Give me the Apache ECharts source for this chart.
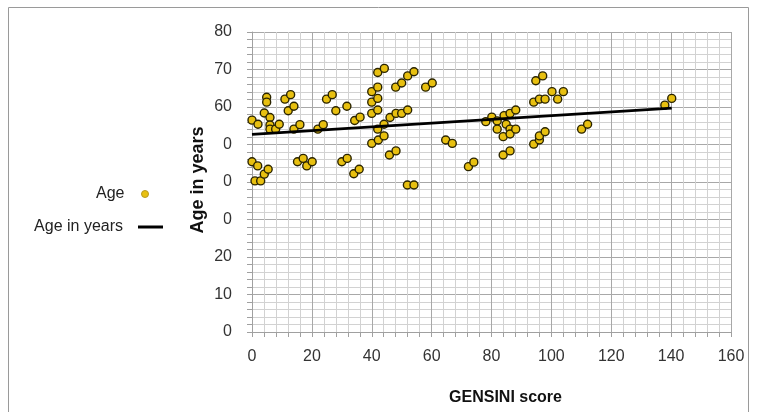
<!DOCTYPE html>
<html>
<head>
<meta charset="utf-8">
<script src="https://cdn.jsdelivr.net/npm/echarts@6/dist/echarts.min.js"></script>
<style>html,body{margin:0;padding:0;background:#fff;}#c{width:758px;height:412px;}</style>
</head>
<body>
<div id="c"></div>
<script>
// GENSINI score (x) and Age (y) for each plotted point
const gensini = [0, 2, 4.1, 4.9, 4.9, 6, 6, 6, 7.9, 9.1, 11, 12.9, 12.1, 14, 14, 16, 22, 23.8, 24.9, 26.8, 28, 31.7,
  0, 1.9, 1, 2.9, 4.1, 5.4, 15.2, 17.1, 18.3, 20.1, 30, 31.8, 34, 35.8, 34.3, 36.1,
  42, 44.2, 52, 54.1, 48, 50, 58, 60.2, 40, 42, 40, 42, 40, 42, 46.1, 48.1, 50, 52, 42, 44.1, 40, 42.2, 44.1, 45.9, 48.1, 64.7, 66.9, 51.9, 54.1,
  78.1, 80.1, 81.9, 84.2, 86.2, 88.1, 81.9, 83.9, 84.9, 86.2, 86.2, 88.1, 83.9, 86.2, 72.3, 74.1,
  94.8, 97.1, 94.1, 96, 97.9, 100.2, 102.1, 104, 94.1, 96, 96, 97.9,
  110.1, 112.1, 137.9, 140.2];
const ages = [56.5, 55.4, 58.4, 62.6, 61.3, 57.2, 55.2, 54.1, 54.1, 55.4, 62.1, 63.3, 59.0, 60.2, 54.1, 55.3, 54.1, 55.3, 62.1, 63.3, 59.0, 60.2,
  45.4, 44.3, 40.3, 40.3, 42.1, 43.4, 45.4, 46.3, 44.3, 45.4, 45.4, 46.3, 42.2, 43.4, 56.4, 57.3,
  69.2, 70.3, 68.3, 69.4, 65.3, 66.4, 65.3, 66.4, 64.1, 65.3, 61.3, 62.3, 58.3, 59.2, 57.2, 58.3, 58.3, 59.2, 54.1, 55.4, 50.3, 51.2, 52.3, 47.2, 48.3, 51.2, 50.3, 39.2, 39.2,
  56.1, 57.3, 56.3, 57.7, 58.3, 59.2, 54.1, 52.1, 55.4, 54.1, 52.8, 54.1, 47.2, 48.3, 44.1, 45.3,
  67.0, 68.3, 61.3, 62.1, 62.1, 64.1, 62.1, 64.1, 50.1, 51.2, 52.3, 53.4,
  54.1, 55.4, 60.5, 62.3];
// Linear trend line "Age in years"
const trendX = [0, 140.2];
const trendY = [52.7, 59.7];

const scatterData = gensini.map((g, i) => [g, ages[i]]);
const trendData = trendX.map((g, i) => [g, trendY[i]]);

const FONT = '"Liberation Sans", Arial, sans-serif';
const chart = echarts.init(document.getElementById('c'), null, {renderer: 'canvas'});
chart.setOption({
  backgroundColor: '#ffffff',
  animation: false,
  grid: {left: 252, right: 27, top: 32, bottom: 80, containLabel: false},
  legend: [
    {
      data: [{name: 'Age', icon: 'circle', itemStyle: {color: '#E8C010', borderColor: '#b89a20', borderWidth: 1}}],
      orient: 'vertical', align: 'right', right: 609, top: 186, padding: 0,
      itemWidth: 7, itemHeight: 7,
      textStyle: {fontFamily: FONT, fontSize: 16, color: '#222', padding: [0, 12, 0, 0]}
    },
    {
      data: [{name: 'Age in years', icon: 'rect', itemStyle: {color: '#000'}}],
      orient: 'vertical', align: 'right', right: 595, top: 219, padding: 0,
      itemWidth: 25, itemHeight: 3,
      textStyle: {fontFamily: FONT, fontSize: 16, color: '#222', padding: [0, 10, 0, 0]}
    }
  ],
  xAxis: {
    type: 'value', min: 0, max: 160, interval: 20,
    axisLine: {show: true, lineStyle: {color: '#a0a0a0'}},
    axisTick: {show: true, length: 5, lineStyle: {color: '#a0a0a0'}},
    minorTick: {show: true, splitNumber: 5, length: 5, lineStyle: {color: '#a0a0a0'}},
    axisLabel: {fontFamily: FONT, fontSize: 16, color: '#333', margin: 17},
    splitLine: {show: true, lineStyle: {color: '#a8a8a8'}},
    minorSplitLine: {show: true, lineStyle: {color: '#d2d2d2'}},
    name: 'GENSINI score', nameLocation: 'middle', nameGap: 58,
    nameTextStyle: {fontFamily: FONT, fontSize: 16, fontWeight: 'bold', color: '#111', padding: [0, 0, 0, 28]}
  },
  yAxis: {
    type: 'value', min: 0, max: 80, interval: 10,
    axisLine: {show: true, lineStyle: {color: '#a0a0a0'}},
    axisTick: {show: true, length: 5, lineStyle: {color: '#a0a0a0'}},
    minorTick: {show: true, splitNumber: 5, length: 5, lineStyle: {color: '#a0a0a0'}},
    axisLabel: {fontFamily: FONT, fontSize: 16, color: '#333', margin: 20},
    splitLine: {show: true, lineStyle: {color: '#a8a8a8'}},
    minorSplitLine: {show: true, lineStyle: {color: '#d2d2d2'}}
  },
  series: [
    {
      name: 'Age', type: 'scatter', data: scatterData,
      symbol: 'circle', symbolSize: 8,
      itemStyle: {color: '#E8C010', borderColor: '#2a2400', borderWidth: 1.4, opacity: 1},
      z: 3
    },
    {
      name: 'Age in years', type: 'line', data: trendData,
      showSymbol: false, symbol: 'none',
      lineStyle: {color: '#000', width: 3},
      itemStyle: {color: '#000'},
      z: 4
    }
  ],
  graphic: [
    {type: 'rect', shape: {x: 8.5, y: 7.5, width: 740, height: 420}, style: {fill: 'none', stroke: '#9a9a9a', lineWidth: 1}, z: 0, silent: true},
    {type: 'rect', shape: {x: 186, y: 118, width: 37.5, height: 128}, style: {fill: '#ffffff'}, z: 100, silent: true},
    {type: 'text', x: 198, y: 180, rotation: Math.PI / 2, z: 101, silent: true,
      style: {text: 'Age in years', font: 'bold 18px ' + FONT, fill: '#111', align: 'center', verticalAlign: 'middle'}}
  ]
});
</script>
</body>
</html>
